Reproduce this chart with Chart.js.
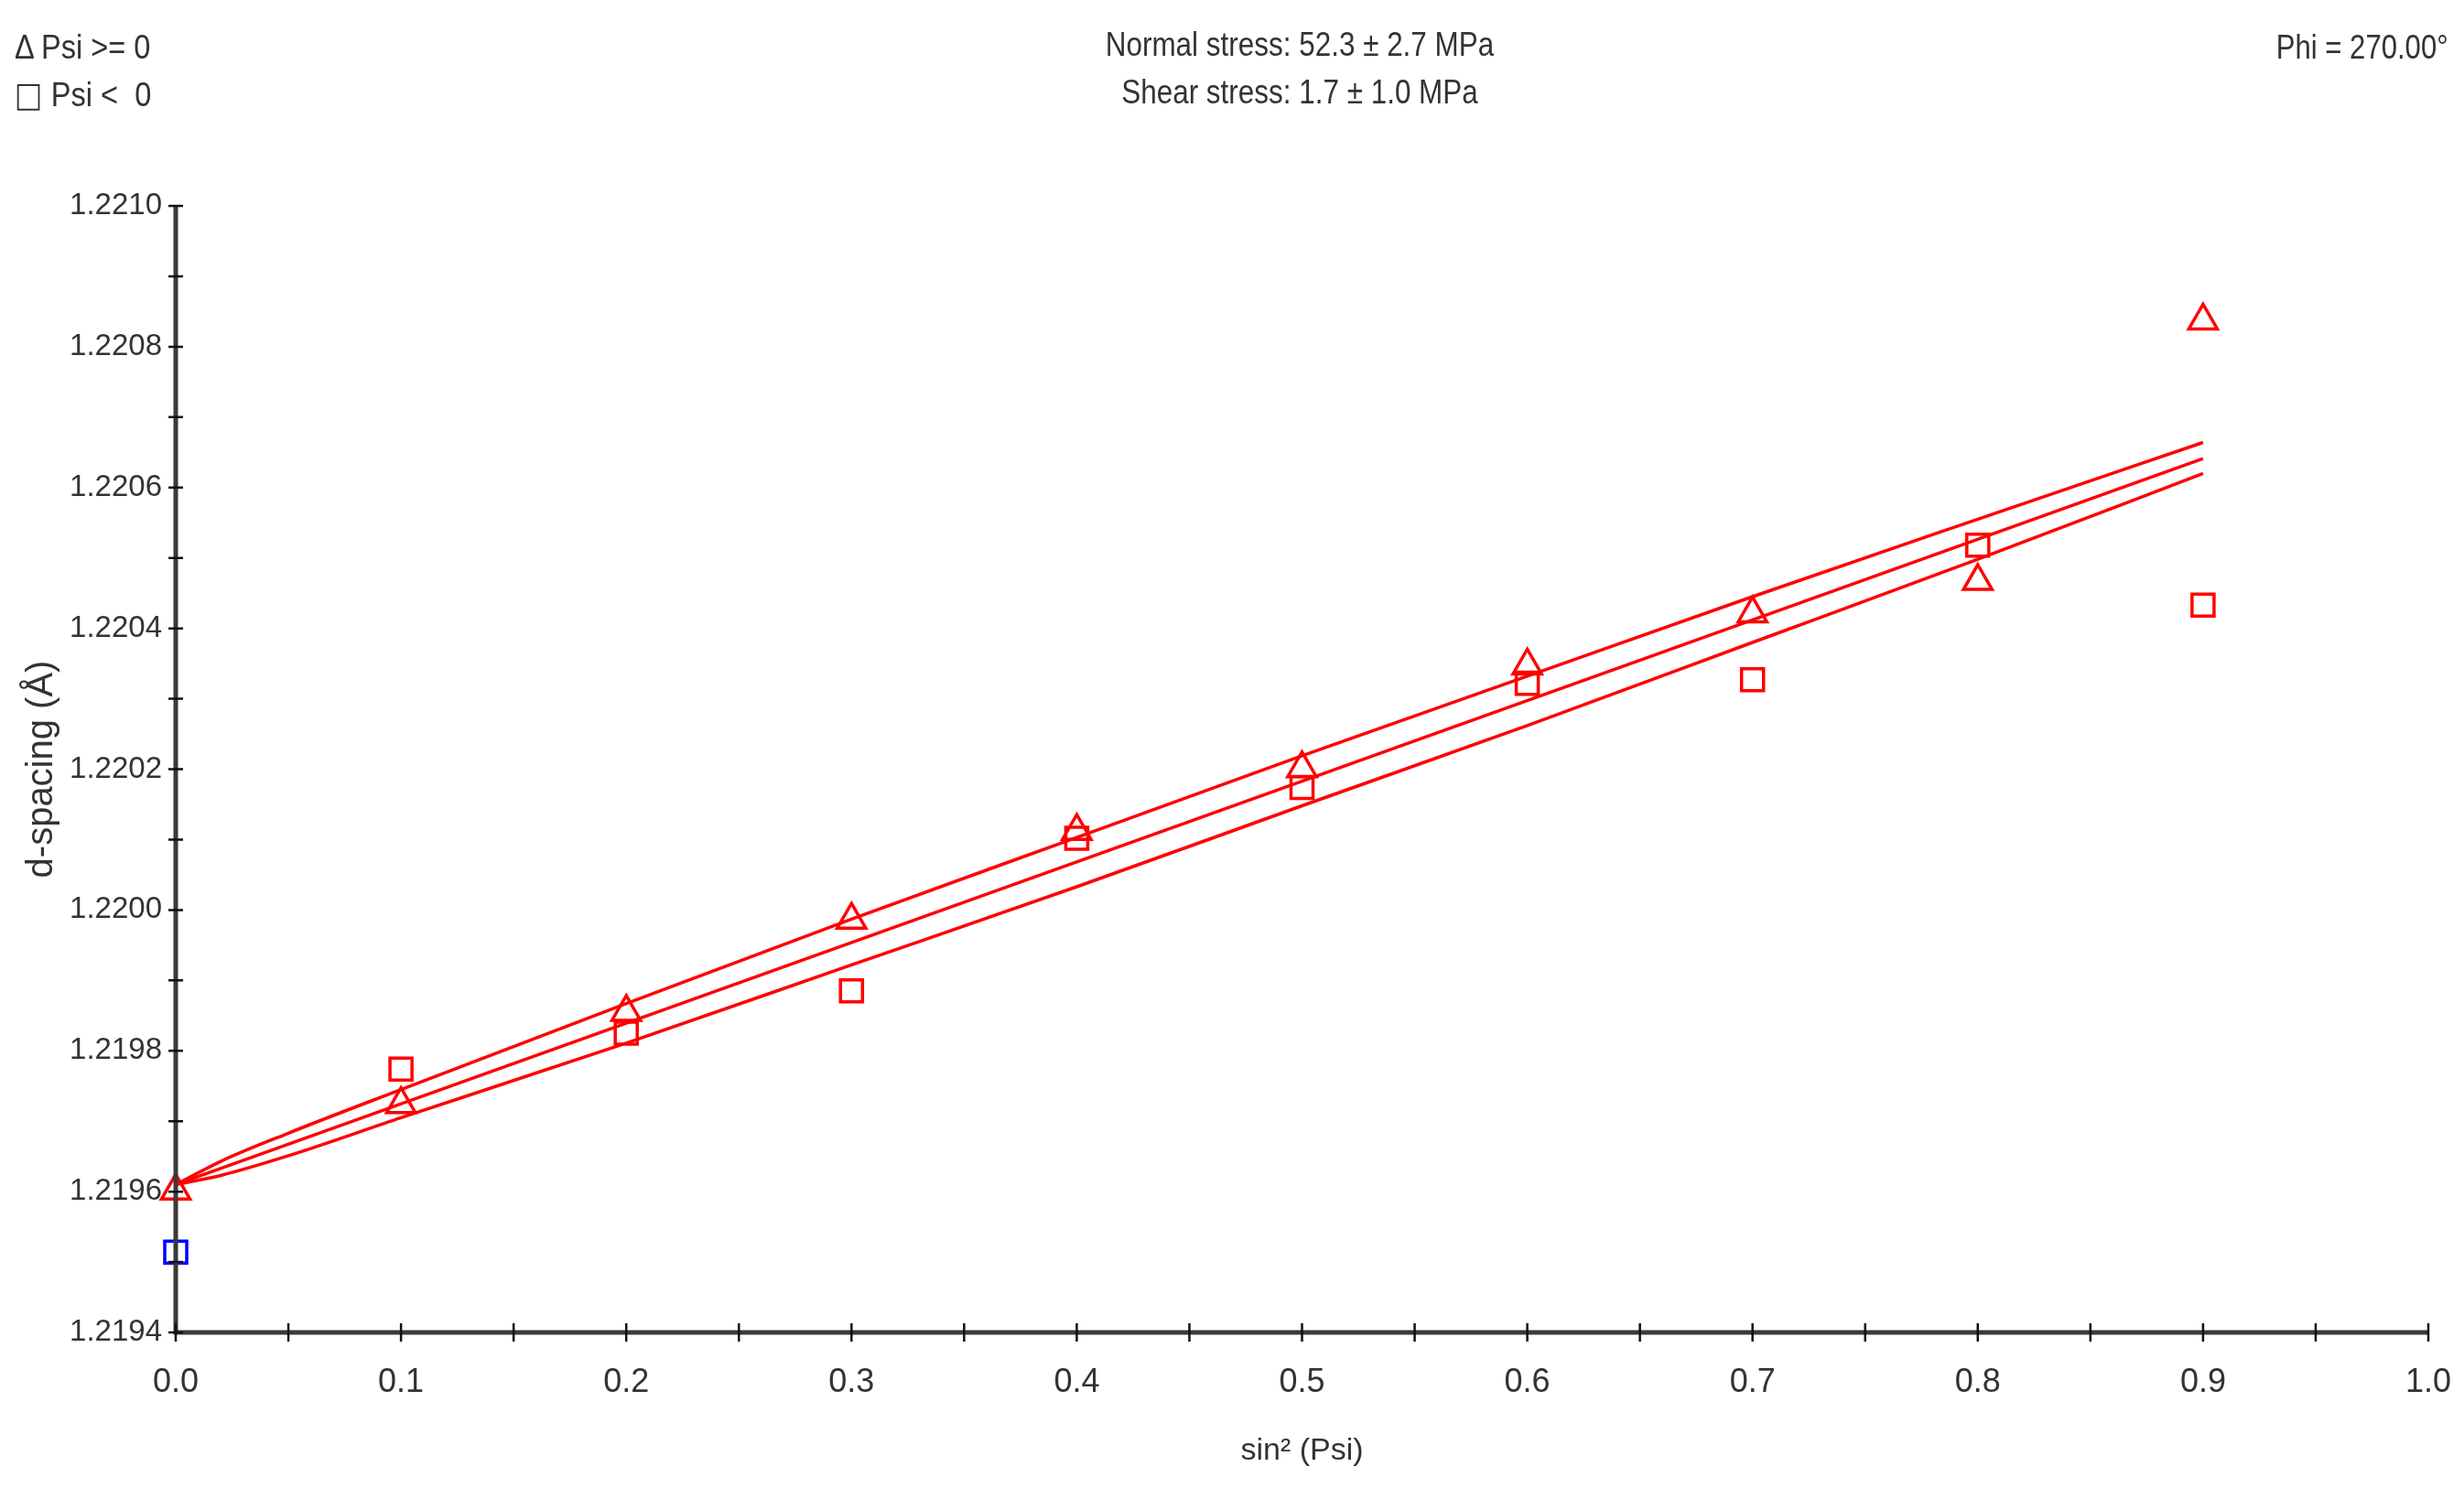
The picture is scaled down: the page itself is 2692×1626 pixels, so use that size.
<!DOCTYPE html>
<html>
<head>
<meta charset="utf-8">
<script src="https://cdn.jsdelivr.net/npm/chart.js@4.4.1/dist/chart.umd.min.js"></script>
<style>
  body { margin: 0; background: #fff; }
  #wrap { position: relative; width: 2692px; height: 1626px; }
  .txt {
    position: absolute;
    font-family: "Liberation Sans", sans-serif;
    font-size: 37px;
    line-height: 37px;
    color: #333;
    white-space: pre;
  }
  .left { transform: scaleX(0.88); transform-origin: left center; }
  .mid { transform: scaleX(0.85); transform-origin: center center; }
  .right { transform: scaleX(0.84); transform-origin: right center; }
</style>
</head>
<body>
<div id="wrap">
  <canvas id="chart" width="2692" height="1626"></canvas>
  <div class="txt left" style="left:16px; top:33px;">Δ Psi &gt;= 0</div>
  <div class="txt left" style="left:16px; top:85px;"><span style="font-family:'DejaVu Sans';font-weight:bold;">□</span> Psi &lt;  0</div>
  <div class="txt mid" style="left:1170px; width:500px; text-align:center; top:30px;">Normal stress: 52.3 ± 2.7 MPa</div>
  <div class="txt mid" style="left:1170px; width:500px; text-align:center; top:82px;">Shear stress: 1.7 ± 1.0 MPa</div>
  <div class="txt right" style="right:17px; top:33px;">Phi = 270.00°</div>
</div>
<script>
// measured points
const sin2psi = [0, 0.1, 0.2, 0.3, 0.4, 0.5, 0.6, 0.7, 0.8, 0.9];
const dPsiPos = [1.219601, 1.219724, 1.219855, 1.219986, 1.220112, 1.220201, 1.220347, 1.220421, 1.220467, 1.220837];
const dPsiNeg = [1.219514, 1.219774, 1.219825, 1.219885, 1.220102, 1.220174, 1.220322, 1.220327, 1.220518, 1.220433];
const negColors = ['#0000ff', '#ff0000', '#ff0000', '#ff0000', '#ff0000', '#ff0000', '#ff0000', '#ff0000', '#ff0000', '#ff0000'];

// fitted curves
const fitX = [0, 0.02, 0.05, 0.1, 0.2, 0.3, 0.4, 0.5, 0.6, 0.7, 0.8, 0.9];
const fitUpper = [1.219610, 1.219643, 1.219683, 1.219745, 1.219867, 1.219987, 1.220103, 1.220219, 1.220332, 1.220445, 1.220555, 1.220664];
const fitLower = [1.219610, 1.219623, 1.219651, 1.219705, 1.219811, 1.219922, 1.220033, 1.220148, 1.220262, 1.220380, 1.220498, 1.220620];
const fitMidX = [0, 0.9];
const fitMid = [1.219610, 1.220641];

// axis ticks (major + minor)
const xTicks = [0, 0.05, 0.1, 0.15, 0.2, 0.25, 0.3, 0.35, 0.4, 0.45, 0.5, 0.55, 0.6, 0.65, 0.7, 0.75, 0.8, 0.85, 0.9, 0.95, 1.0];
const yTicks = [1.2194, 1.2195, 1.2196, 1.2197, 1.2198, 1.2199, 1.2200, 1.2201, 1.2202, 1.2203, 1.2204, 1.2205, 1.2206, 1.2207, 1.2208, 1.2209, 1.2210];

const RED = '#ff0000';
const sans = "'Liberation Sans', sans-serif";

function pts(xs, ys) {
    return xs.map((x, i) => ({x: x, y: ys[i]}));
}

function fitLine(data) {
    return {
        data: data,
        showLine: true,
        borderColor: RED,
        borderWidth: 3.5,
        pointRadius: 0,
        cubicInterpolationMode: 'monotone',
        fill: false,
        clip: false
    };
}

const axesPlugin = {
    id: 'axes',
    afterDraw(chart) {
        const {ctx, chartArea: a, scales: {x, y}} = chart;
        ctx.save();
        ctx.strokeStyle = '#3a3a3a';
        ctx.lineWidth = 5;
        ctx.beginPath();
        ctx.moveTo(a.left, a.top);
        ctx.lineTo(a.left, a.bottom);
        ctx.lineTo(a.right, a.bottom);
        ctx.stroke();
        ctx.strokeStyle = '#111';
        ctx.lineWidth = 2.5;
        ctx.beginPath();
        y.ticks.forEach(t => {
            const py = y.getPixelForValue(t.value);
            ctx.moveTo(a.left - 8, py);
            ctx.lineTo(a.left + 8, py);
        });
        x.ticks.forEach(t => {
            const px = x.getPixelForValue(t.value);
            ctx.moveTo(px, a.bottom - 10);
            ctx.lineTo(px, a.bottom + 10);
        });
        ctx.stroke();
        ctx.restore();
    }
};

new Chart(document.getElementById('chart'), {
    type: 'scatter',
    data: {
        datasets: [
            fitLine(pts(fitX, fitUpper)),
            fitLine(pts(fitMidX, fitMid)),
            fitLine(pts(fitX, fitLower)),
            {
                label: 'Psi >= 0',
                data: pts(sin2psi, dPsiPos),
                pointStyle: 'triangle',
                pointRadius: 18,
                borderColor: RED,
                backgroundColor: 'rgba(0,0,0,0)',
                borderWidth: 3.5,
                clip: false
            },
            {
                label: 'Psi < 0',
                data: pts(sin2psi, dPsiNeg),
                pointStyle: 'rect',
                pointRadius: 17,
                borderColor: negColors,
                backgroundColor: 'rgba(0,0,0,0)',
                borderWidth: 3.5,
                clip: false
            }
        ]
    },
    options: {
        responsive: false,
        animation: false,
        devicePixelRatio: 1,
        layout: {padding: {top: 225, right: 39, left: 0, bottom: 0}},
        plugins: {legend: {display: false}, tooltip: {enabled: false}},
        scales: {
            x: {
                type: 'linear',
                min: 0,
                max: 1,
                grid: {display: false, drawTicks: false},
                border: {display: false},
                afterBuildTicks: s => { s.ticks = xTicks.map(v => ({value: v})); },
                afterFit: s => { s.height = 170; s.paddingLeft = 0; s.paddingRight = 0; },
                ticks: {
                    autoSkip: false,
                    maxRotation: 0,
                    padding: 33,
                    color: '#333',
                    font: {family: sans, size: 36},
                    callback: (v, i) => i % 2 === 0 ? v.toFixed(1) : ''
                },
                title: {
                    display: true,
                    text: 'sin² (Psi)',
                    color: '#333',
                    font: {family: sans, size: 34},
                    padding: {top: 0, bottom: 20}
                }
            },
            y: {
                type: 'linear',
                min: 1.2194,
                max: 1.2210,
                grid: {display: false, drawTicks: false},
                border: {display: false},
                afterBuildTicks: s => { s.ticks = yTicks.map(v => ({value: v})); },
                afterFit: s => { s.width = 192; s.paddingTop = 0; s.paddingBottom = 0; },
                ticks: {
                    autoSkip: false,
                    padding: 15,
                    color: '#333',
                    font: {family: sans, size: 33},
                    callback: (v, i) => i % 2 === 0 ? v.toFixed(4) : ''
                },
                title: {
                    display: true,
                    text: 'd-spacing (Å)',
                    color: '#333',
                    font: {family: sans, size: 40},
                    padding: {top: 22, bottom: 0}
                }
            }
        }
    },
    plugins: [axesPlugin]
});
</script>
</body>
</html>
